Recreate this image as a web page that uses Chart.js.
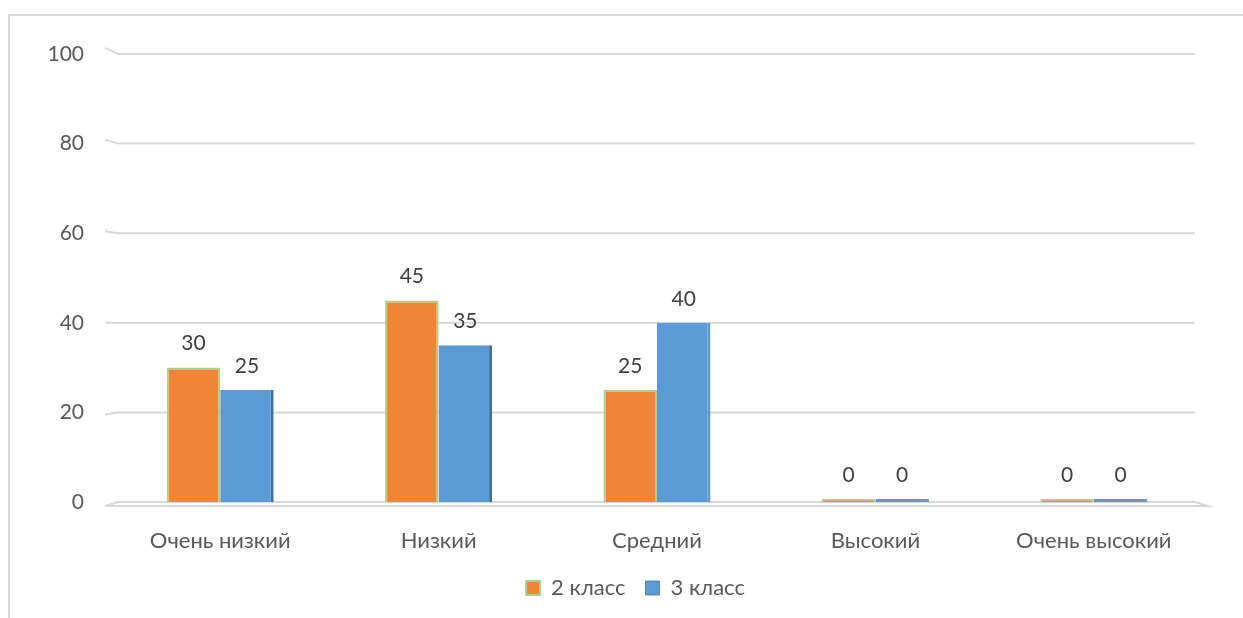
<!DOCTYPE html>
<html lang="ru">
<head>
<meta charset="utf-8">
<script src="https://cdn.jsdelivr.net/npm/chart.js@4/dist/chart.umd.min.js"></script>
<style>
  html, body { margin: 0; padding: 0; background: #ffffff; }
  #wrap { position: relative; width: 1243px; height: 618px; overflow: hidden; }
  #frame { position: absolute; left: 8px; top: 14px; right: -4px; bottom: -4px;
           border-top: 2px solid #D9D9D9; border-left: 2px solid #D9D9D9; }
  #c { position: absolute; left: 0; top: 0; }
</style>
</head>
<body>
<div id="wrap">
  <div id="frame"></div>
  <canvas id="c" width="1243" height="618"></canvas>
</div>
<script>
// Уровни и доли учащихся (%)
const categories = ['Очень низкий', 'Низкий', 'Средний', 'Высокий', 'Очень высокий'];
const seriesNames = ['2 класс', '3 класс'];
const grade2 = [30, 45, 25, 0, 0];
const grade3 = [25, 35, 40, 0, 0];
const yTicks = [0, 20, 40, 60, 80, 100];

const FONT = 'Lato, "Open Sans", sans-serif';

// Back-wall gridlines with the short slanted side-wall segment and the floor
const wallGrid = {
  id: 'wallGrid',
  beforeDatasetsDraw(chart) {
    const { ctx, chartArea: { left, right }, scales: { y } } = chart;
    ctx.save();
    ctx.strokeStyle = '#D9D9D9';
    ctx.lineWidth = 2;
    yTicks.forEach(v => {
      const yb = y.getPixelForValue(v);
      const yf = yb + (40 - v) * 0.1;
      ctx.beginPath();
      ctx.moveTo(left - 6, yf);
      ctx.lineTo(left + 7, yb);
      ctx.lineTo(right - 8, yb);
      ctx.stroke();
      if (v === 0) {
        ctx.beginPath();
        ctx.moveTo(left - 6, yf);
        ctx.lineTo(right + 5, yf);
        ctx.lineTo(right - 8, yb);
        ctx.stroke();
      }
    });
    ctx.restore();
  }
};

// Centre the legend row slightly right of the canvas middle
const legendShift = {
  id: 'legendShift',
  afterLayout(chart) {
    const lg = chart.legend;
    if (lg) { lg.left += 34; lg.right += 34; }
  }
};

// Value labels above each column
const valueLabels = {
  id: 'valueLabels',
  afterDatasetsDraw(chart) {
    const { ctx } = chart;
    ctx.save();
    ctx.font = '21px ' + FONT;
    ctx.fillStyle = '#404040';
    ctx.textAlign = 'center';
    ctx.textBaseline = 'middle';
    chart.data.datasets.forEach((ds, di) => {
      chart.getDatasetMeta(di).data.forEach((bar, i) => {
        ctx.fillText(String(ds.data[i]), bar.x, bar.y - 24);
      });
    });
    ctx.restore();
  }
};

new Chart(document.getElementById('c'), {
  type: 'bar',
  data: {
    labels: categories,
    datasets: [
      {
        label: seriesNames[0],
        data: grade2,
        backgroundColor: '#F08538',
        borderColor: '#A9D18E',
        borderWidth: 2,
        minBarLength: 3
      },
      {
        label: seriesNames[1],
        data: grade3,
        backgroundColor: '#5B9BD5',
        borderColor: ['#3F709F', '#3F709F', '#5B9BD5', '#5B9BD5', '#5B9BD5'],
        borderWidth: { top: 0, left: 0, bottom: 0, right: 3 },
        minBarLength: 3
      }
    ]
  },
  options: {
    responsive: false,
    animation: false,
    devicePixelRatio: 1,
    layout: { padding: { top: 54, right: 40, left: 0, bottom: 9 } },
    datasets: { bar: { categoryPercentage: 0.49, barPercentage: 1.0 } },
    scales: {
      x: {
        grid: { display: false, drawTicks: false },
        border: { display: false },
        ticks: { color: '#595959', font: { family: FONT, size: 22 }, padding: 26 },
        afterFit(scale) { scale.height = 55; }
      },
      y: {
        min: 0,
        max: 100,
        grid: { display: false, drawTicks: false },
        border: { display: false },
        ticks: { color: '#595959', font: { family: FONT, size: 21 }, padding: 27, stepSize: 20 },
        afterFit(scale) { scale.width = 111; }
      }
    },
    plugins: {
      legend: {
        position: 'bottom',
        labels: {
          color: '#595959',
          font: { family: FONT, size: 22 },
          boxWidth: 14,
          boxHeight: 14,
          padding: 20
        }
      },
      tooltip: { enabled: false }
    }
  },
  plugins: [wallGrid, legendShift, valueLabels]
});
</script>
</body>
</html>
